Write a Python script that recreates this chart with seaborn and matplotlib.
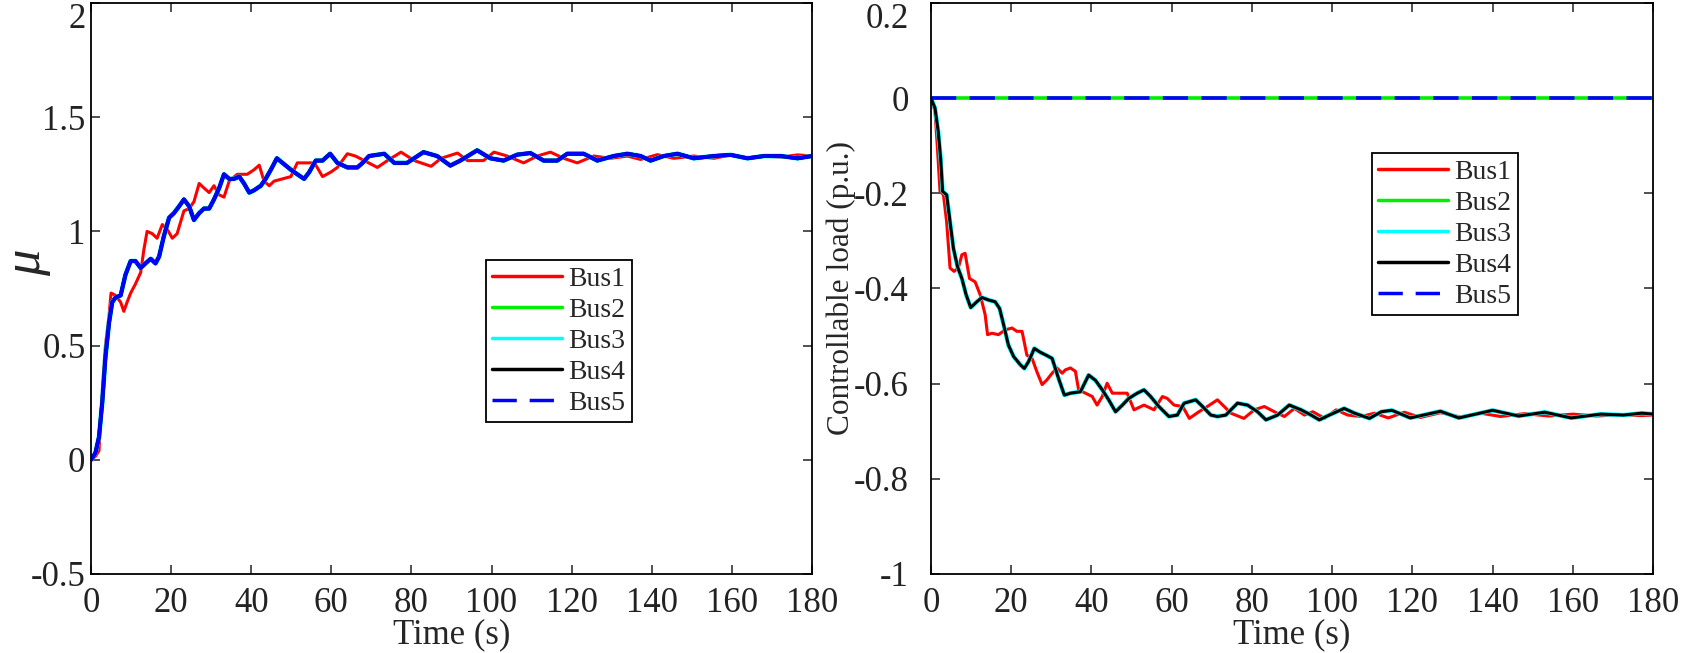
import numpy as np
import pandas as pd
import seaborn as sns
import matplotlib.pyplot as plt

# left panel: mu
t_mu1 = [0, 1.1, 2, 2.4, 3, 3.6, 4.5, 5, 6.1, 7.4, 8.2, 9, 9.9, 11.1, 12.4, 13.2, 14, 15.3, 16.5, 17.8,
         19, 20.3, 21.5, 23.2, 24.5, 25.7, 27, 28.2, 29.5, 30.7, 32, 33.2, 34.5, 36.5, 39, 40.7, 42, 43.2,
         44.5, 45.7, 47.8, 49.9, 51.5, 53.2, 55.8, 57.8, 59.9, 61.5, 64, 66, 68.2, 71.5, 74, 77.4, 80.7,
         84.9, 87.4, 91.5, 94, 98, 100.6, 103.9, 108, 111.4, 114.7, 118, 121.4, 125.5, 129.7, 133.9,
         137.2, 141.4, 145.5, 150.5, 155.5, 159.7, 163.9, 168, 172.2, 176.4, 180]
mu_bus1 = [0, 0.015, 0.04, 0.18, 0.35, 0.50, 0.63, 0.73, 0.72, 0.69, 0.65, 0.69, 0.73, 0.77, 0.82, 0.92,
           1.00, 0.99, 0.97, 1.03, 1.01, 0.97, 0.99, 1.09, 1.10, 1.13, 1.21, 1.19, 1.17, 1.20, 1.16, 1.15,
           1.22, 1.25, 1.25, 1.27, 1.29, 1.22, 1.20, 1.22, 1.23, 1.24, 1.30, 1.30, 1.30, 1.24, 1.26, 1.28,
           1.34, 1.33, 1.31, 1.28, 1.31, 1.347, 1.31, 1.285, 1.32, 1.343, 1.31, 1.31, 1.347, 1.33, 1.30,
           1.33, 1.347, 1.32, 1.30, 1.33, 1.32, 1.33, 1.315, 1.336, 1.32, 1.33, 1.32, 1.335, 1.32, 1.33,
           1.325, 1.335, 1.33]

# Bus2..Bus5 lie on top of each other
t_mu = [0, 1.1, 2, 2.8, 3.6, 4.5, 5.3, 6.1, 7.4, 8.6, 9.9, 11.1, 12.4, 13.6, 14.9, 16.1, 17, 18.2, 19.5,
        20.7, 22, 23.2, 24.5, 25.7, 27, 28.2, 29.5, 30.7, 32, 33.2, 34.5, 35.7, 37, 38.2, 39.5, 40.7,
        42.4, 43.6, 44.9, 46.4, 47.8, 49.9, 51.5, 53.2, 54.5, 56.1, 57.8, 59.7, 61.5, 64, 66.5, 67.8,
        69.4, 73.2, 75.7, 78.9, 83, 86.4, 89.7, 92.2, 96.4, 99.7, 103, 106.4, 109.7, 113, 116.4, 118.9,
        123, 126.4, 130.5, 133.9, 137.2, 139.7, 143, 146.4, 150.5, 155.5, 159.7, 163.9, 168, 172.2,
        176.4, 180]
mu_bus = [0, 0.03, 0.10, 0.25, 0.45, 0.60, 0.69, 0.71, 0.72, 0.81, 0.87, 0.87, 0.84, 0.86, 0.88, 0.86,
          0.89, 0.98, 1.06, 1.08, 1.11, 1.14, 1.11, 1.05, 1.08, 1.10, 1.10, 1.14, 1.19, 1.25, 1.23, 1.23,
          1.24, 1.21, 1.17, 1.18, 1.20, 1.23, 1.27, 1.32, 1.30, 1.27, 1.25, 1.23, 1.26, 1.31, 1.31, 1.34,
          1.30, 1.28, 1.28, 1.30, 1.33, 1.34, 1.30, 1.30, 1.347, 1.33, 1.288, 1.31, 1.355, 1.32, 1.31,
          1.336, 1.343, 1.31, 1.31, 1.34, 1.34, 1.31, 1.33, 1.34, 1.33, 1.31, 1.33, 1.34, 1.32, 1.33,
          1.335, 1.32, 1.33, 1.33, 1.32, 1.33]

# right panel: controllable load (p.u.)
t_p1 = [0, 1, 1.6, 2.25, 3.1, 3.9, 4.75, 5.75, 6.8, 7.7, 8.5, 9.6, 11, 12.25, 13.5, 14.1, 15.2, 16.8,
        18.5, 20.2, 21.4, 22.7, 23.9, 25.2, 26.4, 27.7, 28.9, 30.2, 31.4, 32.7, 33.5, 34.75, 36, 36.8,
        38.5, 40.2, 41.4, 42.7, 43.9, 45.2, 46.8, 48.9, 50.6, 53.1, 55.6, 57.7, 58.9, 60.6, 62.75, 64.4,
        66.8, 68.9, 71.4, 73.1, 74.75, 78, 80.6, 83.1, 85.6, 88.1, 90.6, 93.1, 95.2, 98.1, 101, 103.9,
        107.25, 110.6, 114, 118, 122, 127, 132, 137, 142, 148, 154, 160, 166, 172, 177, 180]
p_bus1 = [0, -0.028, -0.105, -0.196, -0.203, -0.26, -0.357, -0.364, -0.357, -0.329, -0.326, -0.379,
          -0.386, -0.413, -0.455, -0.497, -0.494, -0.497, -0.487, -0.483, -0.490, -0.490, -0.54, -0.547,
          -0.575, -0.602, -0.592, -0.578, -0.567, -0.578, -0.571, -0.567, -0.574, -0.613, -0.620, -0.627,
          -0.645, -0.627, -0.599, -0.620, -0.620, -0.620, -0.655, -0.645, -0.655, -0.627, -0.631, -0.645,
          -0.648, -0.673, -0.659, -0.648, -0.634, -0.648, -0.662, -0.673, -0.655, -0.648, -0.659, -0.669,
          -0.652, -0.666, -0.659, -0.673, -0.655, -0.666, -0.669, -0.662, -0.672, -0.660, -0.671, -0.661,
          -0.670, -0.662, -0.669, -0.663, -0.668, -0.664, -0.668, -0.665, -0.667, -0.666]

t_p4 = [0, 1, 1.8, 2.4, 2.9, 3.9, 4.75, 5.6, 6.6, 7.7, 8.75, 9.9, 11.4, 12.7, 14.3, 16, 17.1, 18.1, 19.3,
        20.6, 22.25, 23.25, 24.3, 25.75, 27.25, 28.9, 30.2, 31.8, 33.25, 34.75, 37.25, 39.3, 41, 42.7,
        44.3, 46, 47.7, 49.3, 51.4, 53.1, 54.75, 56.8, 59.3, 61.4, 63.1, 66, 67.7, 69.75, 71.4, 73.5,
        76.4, 78.9, 81.4, 83.5, 86.4, 89.3, 92.25, 94.75, 96.8, 99.3, 103, 105.6, 109.3, 112.25, 114.9,
        119.5, 127, 131.6, 140, 146.5, 153, 159.6, 167, 172.6, 177.2, 180]
p_bus4 = [0, -0.021, -0.07, -0.126, -0.196, -0.203, -0.26, -0.316, -0.354, -0.379, -0.413, -0.44, -0.428,
          -0.419, -0.424, -0.428, -0.442, -0.476, -0.519, -0.543, -0.56, -0.568, -0.554, -0.526, -0.534,
          -0.541, -0.547, -0.589, -0.624, -0.620, -0.617, -0.582, -0.593, -0.613, -0.634, -0.659, -0.645,
          -0.631, -0.620, -0.613, -0.627, -0.648, -0.669, -0.666, -0.641, -0.634, -0.648, -0.666, -0.669,
          -0.666, -0.641, -0.645, -0.659, -0.676, -0.666, -0.645, -0.655, -0.666, -0.676, -0.666, -0.652,
          -0.662, -0.673, -0.659, -0.656, -0.672, -0.658, -0.672, -0.656, -0.668, -0.660, -0.672, -0.664,
          -0.666, -0.662, -0.664]

t_zero = [0, 180]
p_zero = [0, 0]

labels = ['Bus1', 'Bus2', 'Bus3', 'Bus4', 'Bus5']
colors = ['#ff0000', '#00ee00', '#00ffff', '#000000', '#0000ff']

sns.set_style('ticks')
plt.rcParams['font.family'] = ['Liberation Serif', 'DejaVu Serif']
plt.rcParams['axes.linewidth'] = 1.3

fig = plt.figure(figsize=(16.84, 6.53), dpi=100, facecolor='white')
ax1 = fig.add_axes([91/1684, 79/653, 721/1684, 571/653])
ax2 = fig.add_axes([931/1684, 79/653, 722/1684, 571/653])

dash = (0, (7, 3.7))
leg_kw = dict(loc='upper left', borderaxespad=0, fontsize=20, handlelength=2.5,
              handletextpad=0.25, labelspacing=0.2, borderpad=0.22,
              fancybox=False, framealpha=1, edgecolor='black')

# I. mu
sns.lineplot(x=t_mu1, y=mu_bus1, color=colors[0], lw=2.2, label=labels[0], ax=ax1)
sns.lineplot(x=t_mu, y=mu_bus, color=colors[1], lw=2.6, label=labels[1], ax=ax1)
sns.lineplot(x=t_mu, y=mu_bus, color=colors[2], lw=3.4, label=labels[2], ax=ax1)
sns.lineplot(x=t_mu, y=mu_bus, color=colors[3], lw=2.8, label=labels[3], ax=ax1)
sns.lineplot(x=t_mu, y=mu_bus, color=colors[4], lw=2.7, label=labels[4], ax=ax1)

ax1.set_xlim(0, 180)
ax1.set_ylim(-0.5, 2)
ax1.set_xticks(np.arange(0, 181, 20))
ax1.set_yticks([-0.5, 0, 0.5, 1, 1.5, 2])
ax1.set_yticklabels(['-0.5', '0', '0.5', '1', '1.5', '2'])
ax1.set_xlabel('Time (s)', fontsize=25, labelpad=-1.5)
ax1.set_ylabel('\u03bc', fontsize=38, fontstyle='italic')
ax1.yaxis.set_label_coords(-0.055, 0.545)
ax1.tick_params(axis='both', direction='in', length=6.5, width=1.1, top=True, right=True,
                labelsize=25, colors='#222222')
ax1.tick_params(axis='x', pad=9.5)
ax1.tick_params(axis='y', pad=4)
leg1 = ax1.legend(bbox_to_anchor=(0.548, 0.55), **leg_kw)
leg1.get_frame().set_linewidth(1.3)
for ln in leg1.get_lines():
    ln.set_linewidth(2.5)
leg1.get_lines()[4].set_linestyle(dash)

# II. controllable load
sns.lineplot(x=t_p1, y=p_bus1, color=colors[0], lw=2.2, label=labels[0], ax=ax2)
sns.lineplot(x=t_zero, y=p_zero, color=colors[1], lw=2.6, label=labels[1], ax=ax2)
sns.lineplot(x=t_p4, y=p_bus4, color=colors[2], lw=3.2, label=labels[2], ax=ax2)
sns.lineplot(x=t_p4, y=p_bus4, color=colors[3], lw=2.2, label=labels[3], ax=ax2)
sns.lineplot(x=t_zero, y=p_zero, color=colors[4], lw=2.6, label=labels[4], ax=ax2, linestyle=dash)

ax2.set_xlim(0, 180)
ax2.set_ylim(-1, 0.2)
ax2.set_xticks(np.arange(0, 181, 20))
ax2.set_yticks([-1, -0.8, -0.6, -0.4, -0.2, 0, 0.2])
ax2.set_yticklabels(['-1', '-0.8', '-0.6', '-0.4', '-0.2', '0', '0.2'])
ax2.set_xlabel('Time (s)', fontsize=25, labelpad=-1.5)
ax2.set_ylabel('Controllable load (p.u.)', fontsize=22.5)
ax2.yaxis.set_label_coords(-0.104, 0.5)
ax2.tick_params(axis='both', direction='in', length=6.5, width=1.1, top=True, right=True,
                labelsize=25, colors='#222222')
ax2.tick_params(axis='x', pad=9.5)
ax2.tick_params(axis='y', pad=16)
leg2 = ax2.legend(bbox_to_anchor=(0.611, 0.737), **leg_kw)
leg2.get_frame().set_linewidth(1.3)
for ln in leg2.get_lines():
    ln.set_linewidth(2.5)

for ax in (ax1, ax2):
    for s in ax.spines.values():
        s.set_color('black')
    # the topmost y label sits just inside the figure edge
    ax.get_yticklabels()[-1].set_va('top')

plt.savefig('out.png', dpi=100, facecolor='white')
plt.close(fig)
